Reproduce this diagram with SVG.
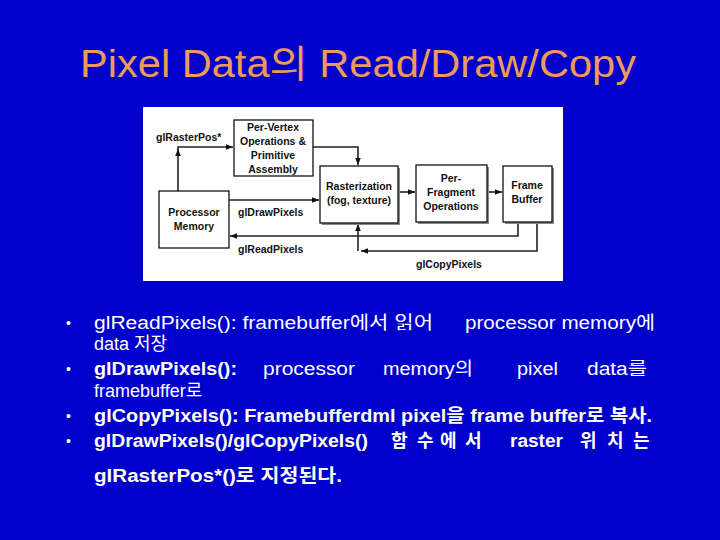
<svg xmlns="http://www.w3.org/2000/svg" width="720" height="540" viewBox="0 0 720 540">
<defs>
<style>
.bx{fill:#fff;stroke:#111;stroke-width:1.3}
.sh{fill:#888}
.ln{fill:none;stroke:#222;stroke-width:1.6}
.nt{font-family:"Liberation Sans",Arial,sans-serif;font-weight:bold;font-size:10.5px;fill:#111;text-anchor:middle}
.lb{font-family:"Liberation Sans",Arial,sans-serif;font-weight:bold;font-size:10.5px;fill:#111}
.tx{font-family:"Liberation Sans","Noto Sans CJK KR",sans-serif;font-size:18px;fill:#fff}
.bd{font-family:"Liberation Sans","Noto Sans CJK KR",sans-serif;font-size:18px;font-weight:bold;fill:#FFFFEE}
.bu{font-family:"Liberation Sans",sans-serif;font-size:14px;fill:#fff}
</style>
<marker id="ah" viewBox="0 0 10 10" refX="10" refY="5" markerWidth="7" markerHeight="7" markerUnits="userSpaceOnUse" orient="auto">
<path d="M0,1 L10,5 L0,9 Z" fill="#111"/>
</marker>
</defs>
<rect width="720" height="540" fill="#0000CC"/>
<text x="358" y="77" font-family="'Liberation Sans','Noto Sans CJK KR',sans-serif" font-size="38" fill="#EE9A5A" text-anchor="middle" textLength="556" lengthAdjust="spacingAndGlyphs">Pixel Data의 Read/Draw/Copy</text>
<rect x="143" y="107" width="420" height="174" fill="#fff"/>
<g id="connectors">
<path class="ln" d="M178,191 L178,149" marker-end="url(#ah)"/>
<path class="ln" d="M178,150 L178,147 L233,147" marker-end="url(#ah)"/>
<path class="ln" d="M313,147 L358,147 L358,165" marker-end="url(#ah)"/>
<path class="ln" d="M229,200 L319,200" marker-end="url(#ah)"/>
<path class="ln" d="M398,192 L415,192" marker-end="url(#ah)"/>
<path class="ln" d="M487,192 L502,192" marker-end="url(#ah)"/>
<path class="ln" d="M518,222 L518,236 L230,236" marker-end="url(#ah)"/>
<path class="ln" d="M537,222 L537,251 L361,251" marker-end="url(#ah)"/>
<path class="ln" d="M358,251 L358,224" marker-end="url(#ah)"/>
<text class="lb" x="156" y="141">glRasterPos*</text>
<text class="lb" x="238" y="216">glDrawPixels</text>
<text class="lb" x="238" y="253">glReadPixels</text>
<text class="lb" x="416" y="268">glCopyPixels</text>
</g>
<g id="per-vertex">
<rect class="bx" x="234" y="120" width="79" height="56"/>
<text class="nt" x="273" y="131">Per-Vertex</text>
<text class="nt" x="273" y="145">Operations &amp;</text>
<text class="nt" x="273" y="159">Primitive</text>
<text class="nt" x="273" y="173">Assembly</text>
</g>
<g id="processor-memory">
<rect class="bx" x="159" y="191" width="70" height="57"/>
<text class="nt" x="194" y="216">Processor</text>
<text class="nt" x="194" y="230">Memory</text>
</g>
<g id="rasterization">
<rect class="sh" x="322" y="168" width="78" height="57"/>
<rect class="bx" x="320" y="166" width="78" height="57"/>
<text class="nt" x="359" y="190">Rasterization</text>
<text class="nt" x="359" y="204">(fog, texture)</text>
</g>
<g id="per-fragment">
<rect class="sh" x="418" y="167" width="71" height="57"/>
<rect class="bx" x="416" y="165" width="71" height="57"/>
<text class="nt" x="451" y="182">Per-</text>
<text class="nt" x="451" y="196">Fragment</text>
<text class="nt" x="451" y="210">Operations</text>
</g>
<g id="frame-buffer">
<rect class="sh" x="505" y="168" width="49" height="56"/>
<rect class="bx" x="503" y="166" width="49" height="56"/>
<text class="nt" x="527" y="189">Frame</text>
<text class="nt" x="527" y="203">Buffer</text>
</g>
<g id="bullets">
<text class="bu" x="66" y="328">•</text>
<text class="tx" x="94" y="329" textLength="339" lengthAdjust="spacingAndGlyphs">glReadPixels(): framebuffer에서 읽어</text>
<text class="tx" x="465" y="329" textLength="190" lengthAdjust="spacingAndGlyphs">processor memory에</text>
<text class="tx" x="94" y="350">data 저장</text>
<text class="bu" x="66" y="374">•</text>
<text class="bd" x="94" y="375" textLength="143" lengthAdjust="spacingAndGlyphs">glDrawPixels():</text>
<text class="tx" x="263" y="375" textLength="92" lengthAdjust="spacingAndGlyphs">processor</text>
<text class="tx" x="383" y="375" textLength="90" lengthAdjust="spacingAndGlyphs">memory의</text>
<text class="tx" x="517" y="375" textLength="41" lengthAdjust="spacingAndGlyphs">pixel</text>
<text class="tx" x="587" y="375" textLength="60" lengthAdjust="spacingAndGlyphs">data를</text>
<text class="tx" x="94" y="397">framebuffer로</text>
<text class="bu" x="66" y="421">•</text>
<text class="bd" x="94" y="422" textLength="558" lengthAdjust="spacingAndGlyphs">glCopyPixels(): Framebufferdml pixel을 frame buffer로 복사.</text>
<text class="bu" x="66" y="446">•</text>
<text class="bd" x="94" y="447" textLength="274" lengthAdjust="spacingAndGlyphs">glDrawPixels()/glCopyPixels()</text>
<text class="bd" x="391" y="447">함</text>
<text class="bd" x="417" y="447">수</text>
<text class="bd" x="440" y="447">에</text>
<text class="bd" x="465" y="447">서</text>
<text class="bd" x="510" y="447" textLength="53" lengthAdjust="spacingAndGlyphs">raster</text>
<text class="bd" x="580" y="447">위</text>
<text class="bd" x="607" y="447">치</text>
<text class="bd" x="633" y="447">는</text>
<text class="bd" x="94" y="482" textLength="248" lengthAdjust="spacingAndGlyphs">glRasterPos*()로 지정된다.</text>
</g>
</svg>
